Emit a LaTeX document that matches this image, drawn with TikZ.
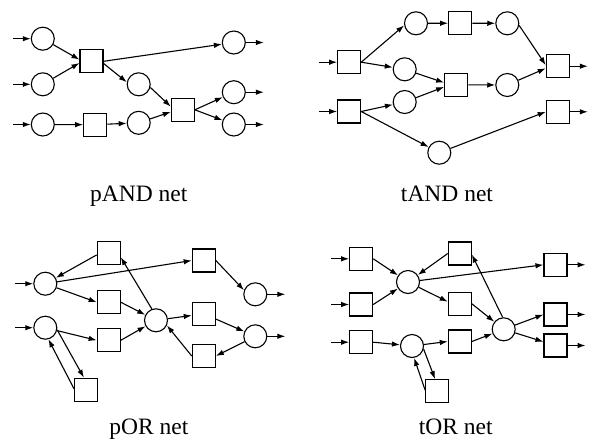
\documentclass[tikz,border=0pt]{standalone}
\usepackage{fontspec}
\setmainfont{Liberation Serif}
\usetikzlibrary{arrows.meta}

\tikzset{
  place/.style={circle, draw, minimum size=23pt, inner sep=0pt},
  trans/.style={rectangle, draw, minimum size=23pt, inner sep=0pt},
  netname/.style={anchor=base, font=\fontsize{23.5}{28}\selectfont}
}

\begin{document}
\begin{tikzpicture}[x=1pt, y=-1pt, line width=1.1pt, >={Latex[length=8pt,width=5.5pt]}]

\useasboundingbox (0,0) rectangle (598,440);

% pAND net
\node [place] (pa1) at (42.8,38.7) {};
\node [place] (pa2) at (42.8,84.3) {};
\node [place] (pa3) at (42.8,124.5) {};
\node [place] (pa4) at (138.7,84.3) {};
\node [place] (pa5) at (138.7,122.8) {};
\node [place] (pa6) at (233.8,42.5) {};
\node [place] (pa7) at (233.8,92.2) {};
\node [place] (pa8) at (233.8,124.5) {};
\node [trans] (ta1) at (91.5,61.3) {};
\node [trans] (ta2) at (95.2,124.7) {};
\node [trans] (ta3) at (182.8,109.8) {};

\draw[->] ([xshift=-18pt]pa1.west) -- (pa1);
\draw[->] ([xshift=-18pt]pa2.west) -- (pa2);
\draw[->] ([xshift=-18pt]pa3.west) -- (pa3);
\draw[->] (pa1) -- (ta1.172);
\draw[->] (pa2) -- (ta1.188);
\draw[->] (ta1.east) -- (pa6);
\draw[->] (ta1.-10) -- (pa4.170);
\draw[->] (pa3) -- (ta2);
\draw[->] (ta2) -- (pa5);
\draw[->] (pa4.-15) -- (ta3.165);
\draw[->] (pa5) -- (ta3.190);
\draw[->] (ta3.east) -- (pa7);
\draw[->] (ta3.east) -- (pa8);
\draw[->] (pa6) -- ([xshift=18pt]pa6.east);
\draw[->] (pa7) -- ([xshift=18pt]pa7.east);
\draw[->] (pa8) -- ([xshift=18pt]pa8.east);

\node [netname] (pandname) at (138.8,201.7) {pAND net};

% tAND net
\node [trans] (tb1) at (349.2,62.2) {};
\node [trans] (tb2) at (349.2,111.5) {};
\node [place] (pb1) at (416,23.3) {};
\node [trans] (tb3) at (460.2,23.2) {};
\node [place] (pb2) at (507.3,23.3) {};
\node [place] (pb3) at (404.7,69.3) {};
\node [place] (pb4) at (404.7,102) {};
\node [trans] (tb4) at (456.2,84.8) {};
\node [place] (pb5) at (507.3,85) {};
\node [trans] (tb5) at (557.8,66.2) {};
\node [trans] (tb6) at (557.8,111.8) {};
\node [place] (pb6) at (439.3,152.7) {};

\draw[->] ([xshift=-18pt]tb1.west) -- (tb1);
\draw[->] ([xshift=-18pt]tb2.west) -- (tb2);
\draw[->] (tb1.east) -- (pb1.190);
\draw[->] (tb1.east) -- (pb3);
\draw[->] (tb2.east) -- (pb4);
\draw[->] (tb2.east) -- (pb6);
\draw[->] (pb1) -- (tb3);
\draw[->] (tb3) -- (pb2);
\draw[->] (pb2.-10) -- (tb5.175);
\draw[->] (pb3) -- (tb4.170);
\draw[->] (pb4) -- (tb4.190);
\draw[->] (tb4) -- (pb5);
\draw[->] (pb5) -- (tb5.190);
\draw[->] (pb6) -- (tb6.west);
\draw[->] (tb5) -- ([xshift=18pt]tb5.east);
\draw[->] (tb6) -- ([xshift=18pt]tb6.east);

\node [netname] (tandname) at (447,201.7) {tAND net};

% pOR net
\node [place] (pc1) at (45.3,283.7) {};
\node [place] (pc2) at (45.3,327.7) {};
\node [place] (pc3) at (156,320.3) {};
\node [place] (pc4) at (255.3,294.3) {};
\node [place] (pc5) at (255.3,336.3) {};
\node [trans] (tc1) at (108.7,252.8) {};
\node [trans] (tc2) at (108.7,302.2) {};
\node [trans] (tc3) at (108.7,340.3) {};
\node [trans] (tc4) at (86,389.7) {};
\node [trans] (tc5) at (203.8,260.5) {};
\node [trans] (tc6) at (203.8,313.8) {};
\node [trans] (tc7) at (203.8,356) {};

\draw[->] ([xshift=-18pt]pc1.west) -- (pc1);
\draw[->] ([xshift=-18pt]pc2.west) -- (pc2);
\draw[->] (tc1.190) -- (pc1);
\draw[->] (pc1) -- (tc5.west);
\draw[->] (pc1) -- (tc2.west);
\draw[->] (pc2) -- (tc3.west);
\draw[->] (pc2.-10) -- (tc4.100);
\draw[->] (tc4.175) -- (pc2.-75);
\draw[->] (tc2.east) -- (pc3);
\draw[->] (tc3.east) -- (pc3);
\draw[->] (pc3.110) -- (tc1.-20);
\draw[->] (pc3) -- (tc6);
\draw[->] (tc7.west) -- (pc3.-25);
\draw[->] (tc5.east) -- (pc4.160);
\draw[->] (tc6) -- (pc5);
\draw[->] (pc5) -- (tc7.east);
\draw[->] (pc4) -- ([xshift=18pt]pc4.east);
\draw[->] (pc5) -- ([xshift=18pt]pc5.east);

\node [netname] (porname) at (148.8,434.3) {pOR net};

% tOR net
\node [trans] (td1) at (361.2,258.8) {};
\node [trans] (td2) at (361.2,304.5) {};
\node [trans] (td3) at (361.2,342.2) {};
\node [place] (pd1) at (408,282) {};
\node [place] (pd2) at (412,346) {};
\node [trans] (td4) at (437.2,391.2) {};
\node [trans] (td5) at (459.8,253.5) {};
\node [trans] (td6) at (459.8,303.8) {};
\node [trans] (td7) at (459.8,341.5) {};
\node [place] (pd3) at (503.7,329.3) {};
\node [trans] (td8) at (555.5,264.8) {};
\node [trans] (td9) at (555.5,314.5) {};
\node [trans] (td10) at (555.5,345.5) {};

\draw[->] ([xshift=-18pt]td1.west) -- (td1);
\draw[->] ([xshift=-18pt]td2.west) -- (td2);
\draw[->] ([xshift=-18pt]td3.west) -- (td3);
\draw[->] (td1.east) -- (pd1);
\draw[->] (td2.east) -- (pd1);
\draw[->] (td5.west) -- (pd1);
\draw[->] (pd1) -- (td8.west);
\draw[->] (pd1) -- (td6.170);
\draw[->] (td6.east) -- (pd3);
\draw[->] (td7.east) -- (pd3);
\draw[->] (pd3.95) -- (td5.-5);
\draw[->] (pd3) -- (td9.west);
\draw[->] (pd3) -- (td10);
\draw[->] (td3.east) -- (pd2);
\draw[->] (pd2) -- (td7.west);
\draw[->] (pd2.-15) -- (td4.100);
\draw[->] (td4.175) -- (pd2.-80);
\draw[->] (td8) -- ([xshift=18pt]td8.east);
\draw[->] (td9) -- ([xshift=18pt]td9.east);
\draw[->] (td10) -- ([xshift=18pt]td10.east);

\node [netname] (torname) at (455.8,434.3) {tOR net};

\end{tikzpicture}
\end{document}
